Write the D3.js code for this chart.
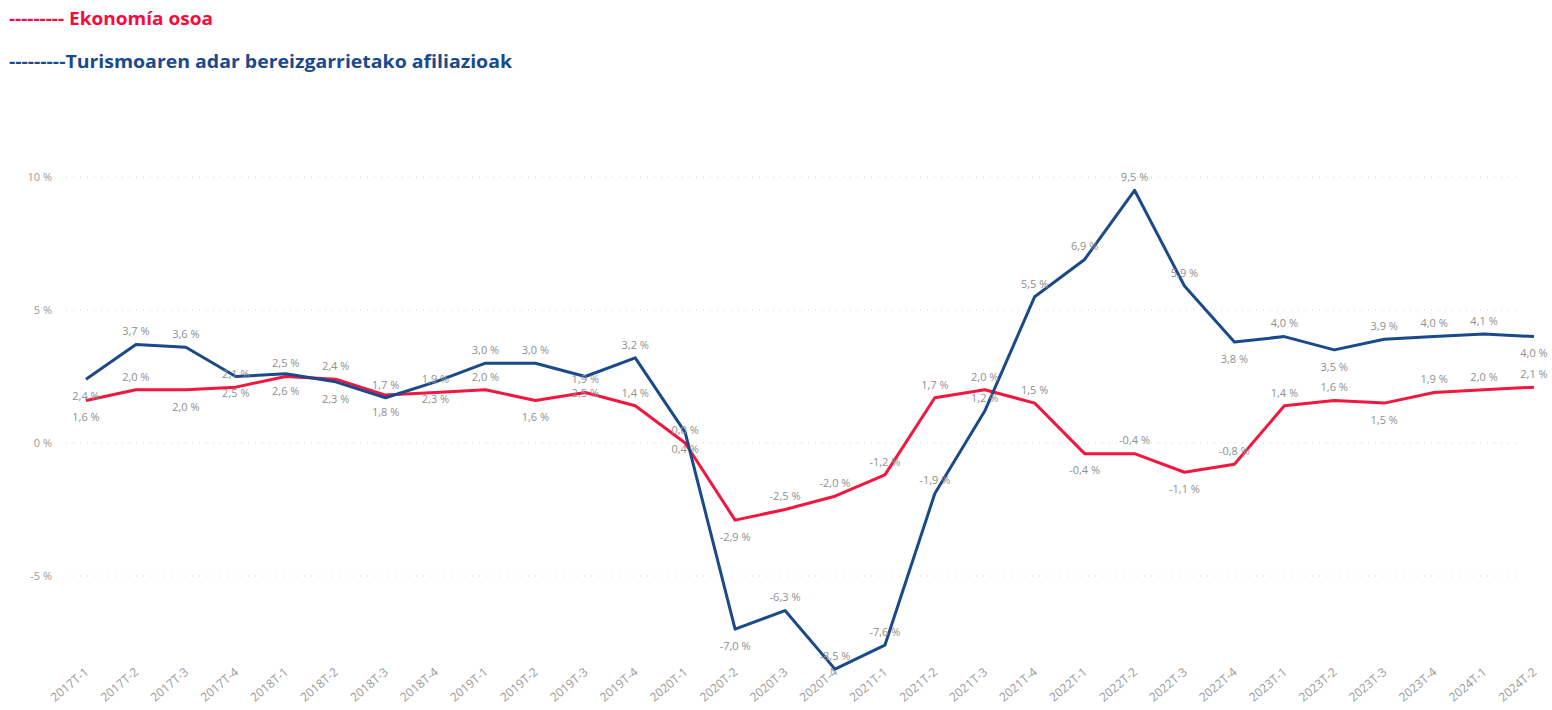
<html><head>
<meta charset="utf-8">
<title>Ekonomia vs turismoa</title>
<script src="https://d3js.org/d3.v7.min.js"></script>
<style>
  body { margin: 0; background: #fff; }
  svg { font-family: "Open Sans", "Segoe UI", sans-serif; }
</style>
</head>
<body>
<svg id="chart" width="1552" height="710"></svg>

<script>
  // quarters on the x axis
  let quarters = ["2017T-1", "2017T-2", "2017T-3", "2017T-4",
                  "2018T-1", "2018T-2", "2018T-3", "2018T-4",
                  "2019T-1", "2019T-2", "2019T-3", "2019T-4",
                  "2020T-1", "2020T-2", "2020T-3", "2020T-4",
                  "2021T-1", "2021T-2", "2021T-3", "2021T-4",
                  "2022T-1", "2022T-2", "2022T-3", "2022T-4",
                  "2023T-1", "2023T-2", "2023T-3", "2023T-4",
                  "2024T-1", "2024T-2"];

  // Ekonomía osoa (red)
  let economy = [1.6, 2.0, 2.0, 2.1, 2.5, 2.4, 1.8, 1.9,
                 2.0, 1.6, 1.9, 1.4, 0.0, -2.9, -2.5, -2.0,
                 -1.2, 1.7, 2.0, 1.5, -0.4, -0.4, -1.1, -0.8,
                 1.4, 1.6, 1.5, 1.9, 2.0, 2.1];

  // Turismoaren adar bereizgarrietako afiliazioak (blue)
  let tourism = [2.4, 3.7, 3.6, 2.5, 2.6, 2.3, 1.7, 2.3,
                 3.0, 3.0, 2.5, 3.2, 0.4, -7.0, -6.3, -8.5,
                 -7.6, -1.9, 1.2, 5.5, 6.9, 9.5, 5.9, 3.8,
                 4.0, 3.5, 3.9, 4.0, 4.1, 4.0];

  // where each data label sits: u = above the point, d = below
  let economyLabelSide = ["d", "u", "d", "u", "u", "u", "d", "u",
                          "u", "d", "u", "u", "u", "d", "u", "u",
                          "u", "u", "u", "u", "d", "u", "d", "u",
                          "u", "u", "d", "u", "u", "u"];
  let tourismLabelSide = ["d", "u", "u", "d", "d", "d", "u", "d",
                          "u", "u", "d", "u", "d", "d", "u", "u",
                          "u", "u", "u", "u", "u", "u", "u", "d",
                          "u", "d", "u", "u", "u", "d"];

  let yTicks = [-5, 0, 5, 10];

  let red = "#f3163f";
  let blue = "#1a4a8a";
  let grey = "#8f8f8f";

  let svg = d3.select("#chart");

  let x = d3.scalePoint().domain(quarters).range([86, 1534]);
  let y = d3.scaleLinear().domain([-10, 10]).range([709, 177]);

  // 2.5 -> "2,5 %" (plain hyphen for negatives)
  function fmt(v) {
    return d3.format(".1f")(v).replace("\u2212", "-").replace(".", ",") + " %";
  }

  // legend (written as text with dashes, like the original)
  svg.append("text")
      .attr("x", 9).attr("y", 25)
      .attr("textLength", 204)
      .attr("lengthAdjust", "spacingAndGlyphs")
      .style("font-size", "18px").style("font-weight", "bold")
      .style("fill", "#f70a3d")
      .text("--------- Ekonomía osoa");
  svg.append("text")
      .attr("x", 9).attr("y", 68)
      .attr("textLength", 503)
      .attr("lengthAdjust", "spacingAndGlyphs")
      .style("font-size", "18px").style("font-weight", "bold")
      .style("fill", "#1b4a8c")
      .text("---------Turismoaren adar bereizgarrietako afiliazioak");

  // gridlines + y labels
  let yAxis = svg.append("g");
  yTicks.forEach(function(t) {
    yAxis.append("line")
        .attr("x1", 66).attr("x2", 1522)
        .attr("y1", y(t)).attr("y2", y(t))
        .style("stroke", "#d4d4d4")
        .style("stroke-dasharray", "1,6");
    yAxis.append("text")
        .attr("x", 52).attr("y", y(t))
        .attr("dy", "0.35em")
        .attr("text-anchor", "end")
        .style("font-size", "11px")
        .style("fill", "#9a9a9a")
        .text(t + " %");
  });

  // x labels, rotated
  quarters.forEach(function(q) {
    svg.append("text")
        .attr("transform", "translate(" + (x(q) - 2) + ",667) rotate(-40)")
        .attr("text-anchor", "end")
        .attr("dy", "0.7em")
        .style("font-size", "12px")
        .style("fill", "#9a9a9a")
        .text(q);
  });

  let line = d3.line()
      .x(function(d, i) { return x(quarters[i]); })
      .y(function(d) { return y(d); });

  svg.append("path")
      .datum(economy)
      .attr("d", line)
      .style("fill", "none")
      .style("stroke", red)
      .style("stroke-width", 3)
      .style("stroke-linejoin", "round");

  svg.append("path")
      .datum(tourism)
      .attr("d", line)
      .style("fill", "none")
      .style("stroke", blue)
      .style("stroke-width", 3)
      .style("stroke-linejoin", "round");

  // data labels
  function addLabels(values, sides) {
    values.forEach(function(v, i) {
      let off = sides[i] == "u" ? -13 : 17;
      svg.append("text")
          .attr("x", x(quarters[i]))
          .attr("y", y(v) + off)
          .attr("dy", "0.35em")
          .attr("text-anchor", "middle")
          .style("font-size", "11px")
          .style("fill", grey)
          .text(fmt(v));
    });
  }
  addLabels(economy, economyLabelSide);
  addLabels(tourism, tourismLabelSide);
</script>
</body>
</html>
